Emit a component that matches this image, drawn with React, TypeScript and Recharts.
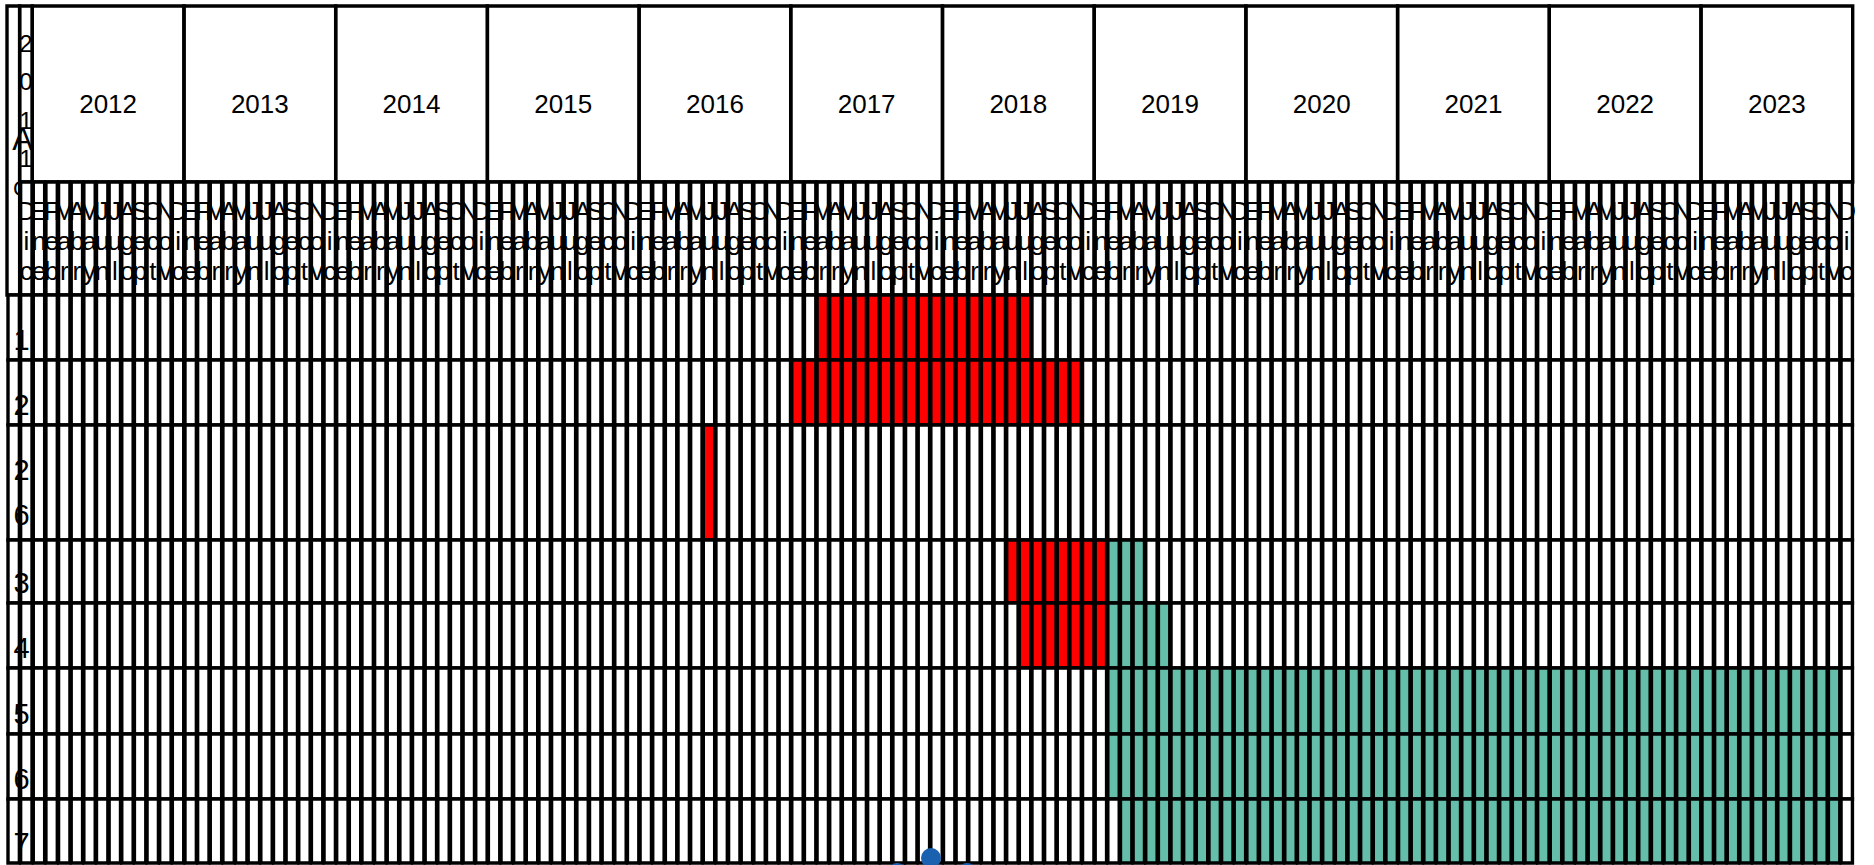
import React from 'react';
import { BarChart, Bar, XAxis, YAxis, Cell, LabelList, ReferenceArea } from 'recharts';

// table runs from Dic 2011 to Dic 2023
const years = [2012, 2013, 2014, 2015, 2016, 2017, 2018, 2019, 2020, 2021, 2022, 2023];
const monthNames = ['Ene', 'Feb', 'Mar', 'Abr', 'May', 'Jun', 'Jul', 'Ago', 'Sep', 'Oct', 'Nov', 'Dic'];
const rowLabels = ['1', '2', '26', '3', '4', '5', '6', '7'];

// red periods per row (null = none)
const redFrom = ['2017-03', '2017-01', '2016-06', '2018-06', '2018-07', null, null, null];
const redTo = ['2018-07', '2018-11', '2016-06', '2019-01', '2019-01', null, null, null];

// green periods per row
const greenFrom = [null, null, null, '2019-02', '2019-02', '2019-02', '2019-02', '2019-03'];
const greenTo = [null, null, null, '2019-04', '2019-06', '2023-11', '2023-11', '2023-11'];

const FONT = '"Liberation Sans", Arial, Helvetica, sans-serif';
const RED = '#ff0000';
const GREEN = '#64bea9';
const LINE = 3.4;

// layout (the y axis is measured in px)
const YEAR_ROW_H = 176;
const MONTH_ROW_H = 113;
const BODY_ROW_H = [65, 65, 115, 63, 65, 66, 65, 64];
const TOTAL_H = YEAR_ROW_H + MONTH_ROW_H + BODY_ROW_H.reduce((a, b) => a + b, 0);

const W = 1874;
const H = 865;
const LEFT = 7;
const RIGHT_EDGE = 1852.7;
const TOP = 6;

const toIndex = (ym: string) => {
  const [y, m] = ym.split('-').map(Number);
  return (y - 2011) * 12 + m - 12;
};
const LAST = toIndex('2023-12');
const UNIT = (RIGHT_EDGE - LEFT) / (LAST + 2);

const inSpan = (from: string | null, to: string | null, i: number) =>
  from !== null && to !== null && i >= toIndex(from) && i <= toIndex(to);

const tableData: any[] = [];
tableData.push({
  x: -0.5,
  month: '',
  yearRow: YEAR_ROW_H,
  monthRow: MONTH_ROW_H,
  ...Object.fromEntries(BODY_ROW_H.map((h, k) => [`r${k}`, h])),
  ...Object.fromEntries(BODY_ROW_H.map((_, k) => [`s${k}`, ''])),
});
for (let i = 0; i <= LAST; i++) {
  const entry: any = {
    x: i + 0.5,
    month: monthNames[(i + 11) % 12],
    yearRow: YEAR_ROW_H,
    monthRow: MONTH_ROW_H,
  };
  BODY_ROW_H.forEach((h, k) => {
    entry[`r${k}`] = h;
    entry[`s${k}`] = inSpan(redFrom[k], redTo[k], i) ? 'red' : inSpan(greenFrom[k], greenTo[k], i) ? 'green' : '';
  });
  tableData.push(entry);
}
const xTicks = tableData.map(d => d.x);

// the y axis is reversed, so label boxes come with a negative height
const boxOf = (p: any) => {
  const vb = p.viewBox ?? p;
  const top = Math.min(vb.y, vb.y + vb.height);
  return { x: vb.x, y: top, width: vb.width, height: Math.abs(vb.height) };
};

const renderMonth = (p: any) => {
  const vb = boxOf(p);
  const name = String(p.value ?? '');
  if (!name || isNaN(vb.x)) return null;
  const cx = vb.x + vb.width / 2;
  return (
    <text textAnchor="middle" fontSize={26} fontFamily={FONT} fill="#000">
      {name.split('').map((ch, k) => (
        <tspan key={k} x={cx} y={vb.y + 38 + k * 30}>{ch}</tspan>
      ))}
    </text>
  );
};

const rowLabelRenderer = (label: string) => (p: any) => {
  if (p.index !== 0) return null;
  const vb = boxOf(p);
  const chars = label.split('');
  const bottom = vb.y + vb.height;
  const last = bottom - (chars.length > 1 ? 15 : 10);
  return (
    <text fontSize={29} fontFamily={FONT} fill="#000">
      {chars.map((ch, k) => (
        <tspan key={k} x={vb.x + 5.5} y={last - (chars.length - 1 - k) * 45}>{ch}</tspan>
      ))}
    </text>
  );
};

const yearLabel = (year: number) => (p: any) => {
  const vb = boxOf(p);
  return (
    <text x={vb.x + vb.width / 2} y={vb.y + 106.7} textAnchor="middle" fontSize={26} fontFamily={FONT} fill="#000">
      {year}
    </text>
  );
};

// 2011 only holds one month, so its digits stack
const firstYearLabel = (p: any) => {
  const vb = boxOf(p);
  const cx = vb.x + vb.width / 2;
  return (
    <text textAnchor="middle" fontSize={24} fontFamily={FONT} fill="#000">
      {'2011'.split('').map((ch, k) => (
        <tspan key={k} x={cx} y={vb.y + 45.7 + k * 38.5}>{ch}</tspan>
      ))}
    </text>
  );
};

const cornerLabel = (p: any) => {
  const vb = boxOf(p);
  return (
    <g fontFamily={FONT} fill="#000">
      <text x={vb.x + 15.5} y={vb.y + 144} textAnchor="middle" fontSize={31}>A</text>
      <text x={vb.x + 14} y={vb.y + 190} textAnchor="middle" fontSize={22}>C</text>
    </g>
  );
};

const Loader = () => {
  const dots = [
    { left: 897, top: 873 },
    { left: 930.7, top: 858 },
    { left: 967, top: 873 },
  ];
  return (
    <>
      {dots.map((d, i) => (
        <div
          key={i}
          style={{
            position: 'absolute',
            left: d.left - 10,
            top: d.top - 10,
            width: 20,
            height: 20,
            borderRadius: '50%',
            background: '#1a62b0',
          }}
        />
      ))}
    </>
  );
};

export default function App() {
  return (
    <div style={{ position: 'absolute', left: 0, top: 0, width: W, height: H, overflow: 'hidden', background: '#fff' }}>
      <BarChart
        width={W}
        height={H}
        data={tableData}
        margin={{ top: TOP, right: W - RIGHT_EDGE, bottom: H - TOP - TOTAL_H, left: LEFT }}
        barCategoryGap={0}
        barGap={0}
        barSize={UNIT}
      >
        <XAxis type="number" dataKey="x" domain={[-1, LAST + 1]} ticks={xTicks} hide />
        <YAxis type="number" domain={[0, TOTAL_H]} reversed hide />

        <Bar dataKey="yearRow" stackId="t" fill="none" stroke="none" isAnimationActive={false} />

        <Bar dataKey="monthRow" stackId="t" fill="#fff" stroke="#000" strokeWidth={LINE} isAnimationActive={false}>
          {tableData.map((d, i) => (
            <Cell key={i} stroke={d.x < 0 ? 'none' : '#000'} fill={d.x < 0 ? 'none' : '#fff'} />
          ))}
          <LabelList dataKey="month" content={renderMonth} />
        </Bar>

        {rowLabels.map((label, k) => (
          <Bar
            key={label}
            dataKey={`r${k}`}
            stackId="t"
            stroke="#000"
            strokeWidth={LINE}
            isAnimationActive={false}
          >
            {tableData.map((d, i) => (
              <Cell
                key={i}
                fill={d[`s${k}`] === 'red' ? RED : d[`s${k}`] === 'green' ? GREEN : '#fff'}
              />
            ))}
            <LabelList dataKey={`r${k}`} content={rowLabelRenderer(label)} />
          </Bar>
        ))}

        <ReferenceArea
          x1={-1}
          x2={0}
          y1={0}
          y2={YEAR_ROW_H + MONTH_ROW_H}
          fill="none"
          stroke="#000"
          strokeWidth={LINE}
          label={cornerLabel}
        />
        <ReferenceArea
          x1={0}
          x2={1}
          y1={0}
          y2={YEAR_ROW_H}
          fill="none"
          stroke="#000"
          strokeWidth={LINE}
          label={firstYearLabel}
        />
        {years.map(year => (
          <ReferenceArea
            key={year}
            x1={toIndex(`${year}-01`)}
            x2={toIndex(`${year}-12`) + 1}
            y1={0}
            y2={YEAR_ROW_H}
            fill="none"
            stroke="#000"
            strokeWidth={LINE}
            label={yearLabel(year)}
          />
        ))}
      </BarChart>
      <Loader />
    </div>
  );
}
